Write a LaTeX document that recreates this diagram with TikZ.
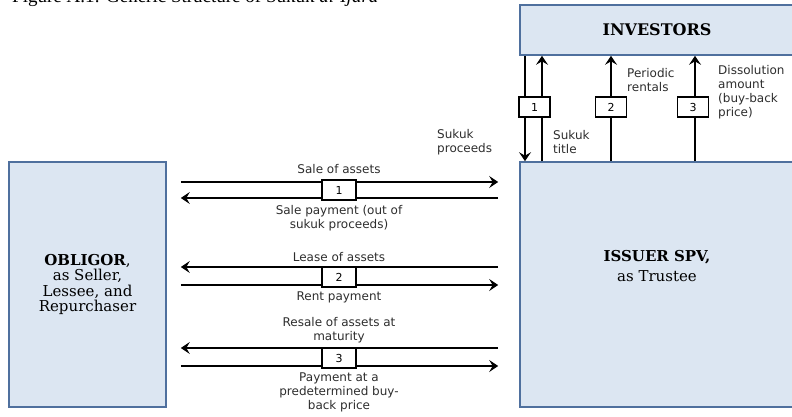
\documentclass[tikz,border=0pt]{standalone}
\usepackage{fontspec}
\setmainfont{Liberation Serif}
\newfontfamily\boxfont{DejaVu Serif}
\newfontfamily\labelfont{DejaVu Sans}
\usetikzlibrary{arrows.meta}

\definecolor{boxfill}{RGB}{220,230,242}
\definecolor{boxline}{RGB}{79,112,158}
\definecolor{labeltext}{RGB}{45,45,45}

\tikzset{
  party/.style={draw=boxline,line width=1.6pt,fill=boxfill,inner sep=0pt,
    font=\boxfont\fontsize{15}{15.5}\selectfont,align=center},
  flow/.style={line width=2.5pt,-{Stealth[length=9pt,width=12pt,inset=3.5pt]}},
  numbox/.style={draw,fill=white,line width=1.3pt,minimum width=34pt,minimum height=20pt,
    inner sep=0pt,font=\labelfont\fontsize{11}{12}\selectfont},
  lbl/.style={font=\labelfont\fontsize{12}{14}\selectfont,text=labeltext,align=center,inner sep=0pt}
}

\begin{document}
\begin{tikzpicture}[x=1pt,y=-1pt]
\useasboundingbox (0,0) rectangle (792,417);
\node[anchor=base west,font=\fontsize{19}{22}\selectfont,inner sep=0pt] (title) at (12,3)
  {Figure A.1: Generic Structure of Sukuk \textit{al-Ijara}};

% the three parties
\node[party,minimum width=157pt,minimum height=245pt] (obligor) at (87.5,284.5)
  {\textbf{OBLIGOR},\\as Seller,\\Lessee, and\\Repurchaser};
\node[party,minimum width=274pt,minimum height=245pt] (issuer) at (657,284.5) {};
\node[party,minimum width=274pt,minimum height=50pt,font=\boxfont\fontsize{16}{17}\selectfont]
  (investors) at (657,30) {\textbf{INVESTORS}};
\node[font=\boxfont\fontsize{15}{19.5}\selectfont,align=center] (trustee) at (657,266)
  {\textbf{ISSUER SPV,}\\as Trustee};

% rows and columns
\coordinate (ra) at (0,182);
\coordinate (rb) at (0,198);
\coordinate (rc) at (0,267);
\coordinate (rd) at (0,285);
\coordinate (re) at (0,348);
\coordinate (rf) at (0,366);
\coordinate (ca) at (525,0);
\coordinate (cb) at (542,0);
\coordinate (cc) at (611,0);
\coordinate (cd) at (695,0);

% obligor <-> issuer
\draw[flow,shorten <=14pt,shorten >=21pt] (obligor.east |- ra) -- (issuer.west |- ra);
\draw[flow,shorten <=21pt,shorten >=14pt] (issuer.west |- rb) -- (obligor.east |- rb);
\draw[flow,shorten <=21pt,shorten >=14pt] (issuer.west |- rc) -- (obligor.east |- rc);
\draw[flow,shorten <=14pt,shorten >=21pt] (obligor.east |- rd) -- (issuer.west |- rd);
\draw[flow,shorten <=21pt,shorten >=14pt] (issuer.west |- re) -- (obligor.east |- re);
\draw[flow,shorten <=14pt,shorten >=21pt] (obligor.east |- rf) -- (issuer.west |- rf);

\node[numbox] (h1) at (339,190) {1};
\node[numbox] (h2) at (339,277) {2};
\node[numbox] (h3) at (339,358) {3};

\node[lbl] (sale) at (339,169) {Sale of assets};
\node[lbl] (salepay) at (339,218) {Sale payment (out of\\sukuk proceeds)};
\node[lbl] (lease) at (339,257) {Lease of assets};
\node[lbl] (rent) at (339,297) {Rent payment};
\node[lbl] (resale) at (339,330) {Resale of assets at\\maturity};
\node[lbl] (buyback) at (339,392) {Payment at a\\predetermined buy-\\back price};

% issuer <-> investors
\draw[flow] (ca |- investors.south) -- (ca |- issuer.north);
\draw[flow] (cb |- issuer.north) -- (cb |- investors.south);
\draw[flow] (cc |- issuer.north) -- (cc |- investors.south);
\draw[flow] (cd |- issuer.north) -- (cd |- investors.south);

\node[numbox,minimum width=31pt] (v1) at (534.5,107) {1};
\node[numbox,minimum width=31pt] (v2) at (611,107) {2};
\node[numbox,minimum width=31pt] (v3) at (693,107) {3};

\node[lbl,align=left,anchor=west] (proceeds) at (437,142) {Sukuk\\proceeds};
\node[lbl,align=left,anchor=west] (title2) at (553,142) {Sukuk\\title};
\node[lbl,align=left,anchor=west] (rentals) at (627,80) {Periodic\\rentals};
\node[lbl,align=left,anchor=west] (dissolution) at (718,92) {Dissolution\\amount\\(buy-back\\price)};
\end{tikzpicture}
\end{document}
